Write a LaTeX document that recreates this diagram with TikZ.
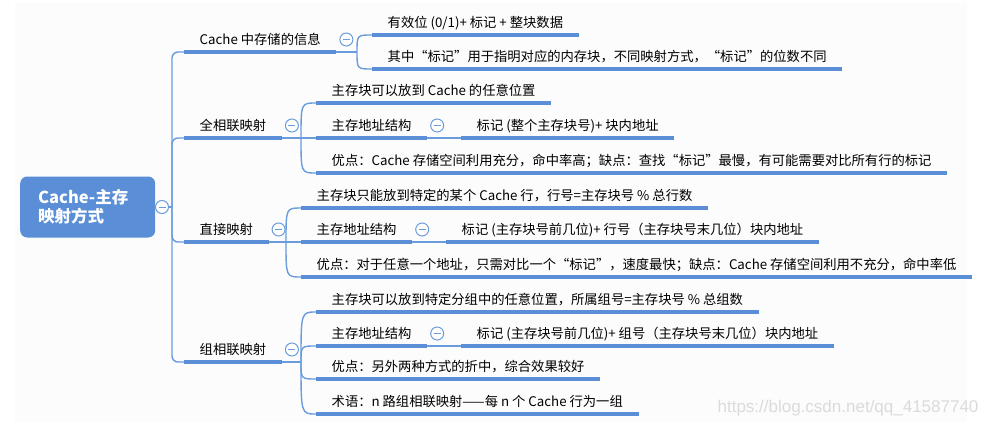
\documentclass[tikz,border=0pt]{standalone}
\usepackage{fontspec}
\setmainfont{Noto Sans CJK SC}
\newfontfamily\wmfont{Liberation Sans}
\usepackage{xcolor}
\usepackage{tikz}
\usetikzlibrary{calc}
\definecolor{linec}{HTML}{5A8ED6}
\definecolor{connc}{HTML}{6A9CDC}
\definecolor{bgc}{HTML}{FCFCFC}

\begin{document}
\begin{tikzpicture}[x=1pt, y=-1pt,
  topic/.style={anchor=south west, inner xsep=15.5pt, inner ysep=4.5pt, text height=10pt, text depth=3pt, font=\fontsize{13.3}{16}\selectfont},
  root/.style={anchor=west, fill=linec, rounded corners=7pt, text=white, font=\bfseries\fontsize{16.5}{19}\selectfont, text width=99pt, inner xsep=18pt, minimum height=61pt, align=left},
  uline/.style={linec, line width=4pt},
  conn/.style={connc, line width=1.4pt},
  fold/.style={circle, draw=connc, fill=white, line width=1pt, minimum size=13pt, inner sep=0pt, path picture={\draw[connc, line width=1pt] ([xshift=-3.5pt]path picture bounding box.center) -- ([xshift=3.5pt]path picture bounding box.center);}}]
  \useasboundingbox (0,0) rectangle (990,428);
  \fill[bgc] (15,3) rectangle (967,422);

  \node[root] (root) at (20,207) {Cache-主存\\映射方式};
  \node[fold] (root-fold) at (162,207) {};
  \coordinate (trunk) at (172,207);

  \node[topic] (info) at (184,52) {Cache 中存储的信息};
  \node[topic] (full) at (184,138) {全相联映射};
  \node[topic] (direct) at (184,242) {直接映射};
  \node[topic] (assoc) at (184,362) {组相联映射};

  \node[topic] (infoA) at (372,35) {有效位 (0/1)+ 标记 + 整块数据};
  \node[topic] (infoB) at (372,69) {其中“标记”用于指明对应的内存块，不同映射方式，“标记”的位数不同};

  \node[topic] (fullA) at (316,103) {主存块可以放到 Cache 的任意位置};
  \node[topic] (fullB) at (316,138) {主存地址结构};
  \node[topic] (fullT) at (461,138) {标记 (整个主存块号)+ 块内地址};
  \node[topic] (fullC) at (316,173) {优点：Cache 存储空间利用充分，命中率高；缺点：查找“标记”最慢，有可能需要对比所有行的标记};

  \node[topic] (directA) at (301,208) {主存块只能放到特定的某个 Cache 行，行号=主存块号 \% 总行数};
  \node[topic] (directB) at (301,242) {主存地址结构};
  \node[topic] (directT) at (446,242) {标记 (主存块号前几位)+ 行号（主存块号末几位）块内地址};
  \node[topic] (directC) at (301,277) {优点：对于任意一个地址，只需对比一个“标记”，速度最快；缺点：Cache 存储空间利用不充分，命中率低};

  \node[topic] (assocA) at (316,312) {主存块可以放到特定分组中的任意位置，所属组号=主存块号 \% 总组数};
  \node[topic] (assocB) at (316,346) {主存地址结构};
  \node[topic] (assocT) at (461,346) {标记 (主存块号前几位)+ 组号（主存块号末几位）块内地址};
  \node[topic] (assocC) at (316,379) {优点：另外两种方式的折中，综合效果较好};
  \node[topic] (assocD) at (316,414) {术语：n 路组相联映射——每 n 个 Cache 行为一组};

  \draw[conn] (root-fold.east) -- (trunk);
  \foreach \n in {info,full,direct,assoc}
    \draw[conn, rounded corners=6pt] (trunk) |- (\n.south west);

  \foreach \p/\cs in {info/{infoA,infoB}, full/{fullA,fullB,fullC}, direct/{directA,directB,directC}, assoc/{assocA,assocB,assocC,assocD}} {
    \coordinate (\p F) at ($(\p.south east -| \p A.south west)+(-15,0)$);
    \draw[conn] (\p.south east) -- (\p F);
    \foreach \c in \cs
      \draw[conn] (\p F) .. controls (\p F |- \c.south west) .. (\c.south west);
  }
  \foreach \n in {full,direct,assoc}
    \draw[conn] (\n B.south east) -- (\n T.south west);

  \foreach \n in {info,infoA,infoB,full,fullA,fullB,fullT,fullC,direct,directA,directB,directT,directC,assoc,assocA,assocB,assocT,assocC,assocD}
    \draw[uline] (\n.south west) -- (\n.south east);

  \foreach \n in {info,full,direct,assoc,fullB,directB,assocB}
    \node[fold] (\n-fold) at ($(\n.south east)+(10,-12.5)$) {};

  \node[font=\wmfont\fontsize{17}{17}\selectfont, text=black!14, anchor=east] (wmark) at (982,408) {https://blog.csdn.net/qq\_41587740};
\end{tikzpicture}
\end{document}
